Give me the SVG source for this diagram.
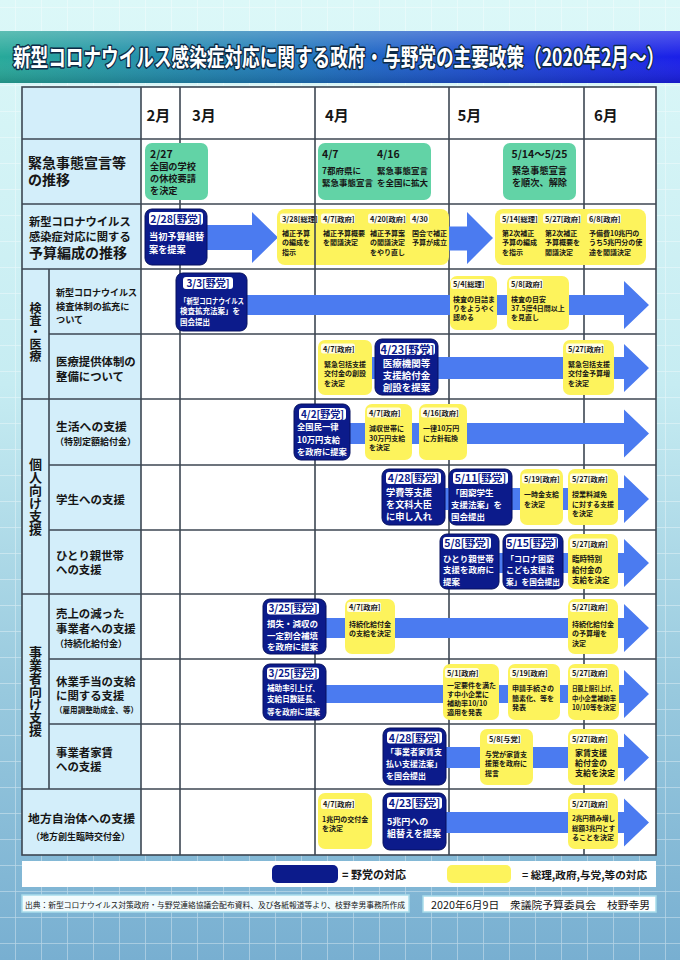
<svg xmlns="http://www.w3.org/2000/svg" width="680" height="960" viewBox="0 0 680 960">
<defs>
<linearGradient id="bg" x1="0" y1="0" x2="0" y2="1">
<stop offset="0" stop-color="#dcf8f8"/><stop offset="0.4" stop-color="#c6ecf2"/><stop offset="0.72" stop-color="#98c9de"/><stop offset="1" stop-color="#78afd1"/>
</linearGradient>
<pattern id="grid" width="26" height="26" patternUnits="userSpaceOnUse" patternTransform="translate(15,7)">
<path d="M0 0H26M0 0V26" fill="none" stroke="#ffffff" stroke-opacity="0.45" stroke-width="1.5"/>
</pattern>
<linearGradient id="tb" x1="0" y1="0" x2="1" y2="0">
<stop offset="0" stop-color="#27a99a"/><stop offset="0.45" stop-color="#1f74bd"/><stop offset="1" stop-color="#1a1fe8"/>
</linearGradient>
<linearGradient id="tbs" x1="0" y1="0" x2="0" y2="1">
<stop offset="0" stop-color="#fff" stop-opacity="0.25"/><stop offset="0.5" stop-color="#fff" stop-opacity="0"/><stop offset="1" stop-color="#000" stop-opacity="0.15"/>
</linearGradient>
<style>
text{font-family:"Noto Sans CJK JP","Noto Sans CJK SC",sans-serif;font-weight:bold;fill:#161616}
.nb{font-weight:normal}
.vt{writing-mode:vertical-rl;text-anchor:middle}
.gl{stroke:#3c4652;stroke-width:1.6;fill:none}
.lab{fill:#d3eefa}
.g{fill:#62d3a6}
.y{fill:#fdf35c}
.b{fill:#0c1b8b;stroke:#06115e;stroke-width:1}
.bp{fill:#ffffff}
.yp{fill:#fffde6}
.arr{fill:#4b7bf0}
.bw{fill:#ffffff}
.bh{fill:#0c1b8b}
.yh{font-size:7.3px}
.yt{font-size:7px}
.ttl{fill:#ffffff;stroke:#0d2a45;stroke-width:3;paint-order:stroke;stroke-linejoin:round}
</style>
</defs>

<rect width="680" height="960" fill="url(#bg)"/>
<rect width="680" height="960" fill="url(#grid)"/>

<g id="title">
<rect x="0" y="31" width="680" height="52" fill="url(#tb)"/>
<rect x="0" y="31" width="680" height="52" fill="url(#tbs)"/>
<text class="ttl" transform="translate(13,66) scale(0.74,1)" x="0" y="0" font-size="24" textLength="880" lengthAdjust="spacingAndGlyphs">新型コロナウイルス感染症対応に関する政府・与野党の主要政策（2020年2月～）</text>
</g>

<g id="table">
<rect x="22" y="87" width="634" height="768" fill="#ffffff"/>
<rect class="lab" x="22" y="87" width="119" height="768"/>
<g class="gl">
<rect x="22" y="87" width="634" height="768"/>
<line x1="141" y1="87" x2="141" y2="855"/>
<line x1="180" y1="87" x2="180" y2="855"/>
<line x1="315" y1="87" x2="315" y2="855"/>
<line x1="449" y1="87" x2="449" y2="855"/>
<line x1="584" y1="87" x2="584" y2="855"/>
<line x1="49" y1="269" x2="49" y2="789"/>
<line x1="22" y1="139" x2="656" y2="139"/>
<line x1="22" y1="204" x2="656" y2="204"/>
<line x1="22" y1="269" x2="656" y2="269"/>
<line x1="49" y1="334" x2="656" y2="334"/>
<line x1="22" y1="399" x2="656" y2="399"/>
<line x1="49" y1="465" x2="656" y2="465"/>
<line x1="49" y1="530" x2="656" y2="530"/>
<line x1="22" y1="594" x2="656" y2="594"/>
<line x1="49" y1="659" x2="656" y2="659"/>
<line x1="49" y1="724" x2="656" y2="724"/>
<line x1="22" y1="789" x2="656" y2="789"/>
</g>
<g font-size="15">
<text x="146.5" y="121">2月</text>
<text x="192" y="121">3月</text>
<text x="325" y="121">4月</text>
<text x="457.5" y="121">5月</text>
<text x="594" y="121">6月</text>
</g>
<g id="row-labels">
<text font-size="14"><tspan x="28" y="168">緊急事態宣言等</tspan><tspan x="28" y="185">の推移</tspan></text>
<text font-size="11.3"><tspan x="29" y="225.5">新型コロナウイルス</tspan><tspan x="29" y="240.5">感染症対応に関する</tspan><tspan x="29" y="258" font-size="14">予算編成の推移</tspan></text>
<text class="vt" x="35.5" y="332" font-size="12">検査・医療</text>
<text class="vt" x="35.5" y="497" font-size="13">個人向け支援</text>
<text class="vt" x="35.5" y="691" font-size="13">事業者向け支援</text>
<text font-size="9.2"><tspan x="56" y="295.5" font-size="9">新型コロナウイルス</tspan><tspan x="56" y="310">検査体制の拡充に</tspan><tspan x="56" y="323">ついて</tspan></text>
<text font-size="11.4"><tspan x="56" y="366">医療提供体制の</tspan><tspan x="56" y="380.5">整備について</tspan></text>
<text font-size="11.8"><tspan x="56" y="431">生活への支援</tspan><tspan x="55" y="444.5" font-size="9">（特別定額給付金）</tspan></text>
<text x="56" y="503.5" font-size="11.5">学生への支援</text>
<text font-size="11.4"><tspan x="56" y="560">ひとり親世帯</tspan><tspan x="56" y="573.6">への支援</tspan></text>
<text font-size="11.4"><tspan x="56" y="618">売上の減った</tspan><tspan x="56" y="632.5">事業者への支援</tspan><tspan x="55" y="647" font-size="9">（持続化給付金）</tspan></text>
<text font-size="11.4"><tspan x="56" y="686">休業手当の支給</tspan><tspan x="56" y="699.5">に関する支援</tspan></text>
<text x="55" y="712.5" font-size="8" textLength="83" lengthAdjust="spacingAndGlyphs">（雇用調整助成金、等）</text>
<text font-size="11.4"><tspan x="56" y="757">事業者家賃</tspan><tspan x="56" y="771">への支援</tspan></text>
<text x="28" y="823" font-size="11.9">地方自治体への支援</text>
<text x="31" y="839.5" font-size="9" textLength="99" lengthAdjust="spacingAndGlyphs">（地方創生臨時交付金）</text>
</g>
</g>

<g id="connectors">
<polygon class="arr" points="200,225 252,225 252,212 278,237.5 252,263 252,250 200,250"/>
<polygon class="arr" points="445,226.5 467,226.5 467,212 493,238 467,264 467,250.5 445,250.5"/>
<polygon class="arr" points="240,295 624,295 624,281 649,305 624,329 624,315 240,315"/>
<polygon class="arr" points="370,357 624,357 624,344 649,368 624,392 624,379 370,379"/>
<polygon class="arr" points="345,423 624,423 624,409.5 649,433.5 624,457.5 624,444 345,444"/>
<polygon class="arr" points="440,488 624,488 624,475 649,499 624,523 624,510 440,510"/>
<polygon class="arr" points="495,553 624,553 624,539 649,563 624,587 624,573 495,573"/>
<polygon class="arr" points="320,618 624,618 624,604 649,628 624,652 624,638 320,638"/>
<polygon class="arr" points="320,685 624,685 624,670 649,694 624,718 624,703 320,703"/>
<polygon class="arr" points="440,747 624,747 624,733.5 649,757.5 624,781.5 624,768 440,768"/>
<polygon class="arr" points="440,812 624,812 624,798.5 649,822.5 624,846.5 624,833 440,833"/>
</g>

<g id="n-0227">
<rect class="g" x="145" y="143" width="63" height="57" rx="7"/>
<text font-size="9.2"><tspan x="150" y="158" font-size="10.5">2/27</tspan><tspan x="150" y="169.5">全国の学校</tspan><tspan x="150" y="181.5">の休校要請</tspan><tspan x="150" y="193.5">を決定</tspan></text>
</g>
<g id="n-0407-0416">
<rect class="g" x="318" y="143" width="113" height="57" rx="7"/>
<text font-size="8.5"><tspan x="322" y="158" font-size="10.5">4/7</tspan><tspan x="322" y="174">7都府県に</tspan><tspan x="322" y="185.5">緊急事態宣言</tspan></text>
<text font-size="8.5"><tspan x="377" y="158" font-size="10.5">4/16</tspan><tspan x="377" y="174">緊急事態宣言</tspan><tspan x="377" y="185.5">を全国に拡大</tspan></text>
</g>
<g id="n-0514-0525">
<rect class="g" x="503" y="143" width="73" height="57" rx="7"/>
<text font-size="9.2" text-anchor="middle"><tspan x="539.5" y="158" font-size="10.5">5/14～5/25</tspan><tspan x="539.5" y="174">緊急事態宣言</tspan><tspan x="539.5" y="186">を順次、解除</tspan></text>
</g>

<g id="n-0228">
<rect class="b" x="145" y="209" width="62" height="56" rx="7"/>
<rect class="bp" x="149" y="212" width="54" height="13" rx="3"/>
<text class="bh" x="176" y="222.5" font-size="10.5" text-anchor="middle">2/28[野党]</text>
<text class="bw" font-size="9.2"><tspan x="149" y="240">当初予算組替</tspan><tspan x="149" y="253">案を提案</tspan></text>
</g>
<g id="n-budget1">
<rect class="y" x="277" y="209" width="172" height="56" rx="8"/>
<rect class="yp" x="280" y="213.5" width="38" height="10" rx="2.5"/>
<rect class="yp" x="321" y="213.5" width="34" height="10" rx="2.5"/>
<rect class="yp" x="368" y="213.5" width="38" height="10" rx="2.5"/>
<rect class="yp" x="410" y="213.5" width="19" height="10" rx="2.5"/>
<line class="gl" x1="315" y1="209" x2="315" y2="265"/>
<text class="yh" x="282" y="221.5">3/28[総理]</text>
<text class="yh" x="323" y="221.5">4/7[政府]</text>
<text class="yh" x="370" y="221.5">4/20[政府]</text>
<text class="yh" x="412" y="221.5">4/30</text>
<text class="yt"><tspan x="282" y="236">補正予算</tspan><tspan x="282" y="245">の編成を</tspan><tspan x="282" y="255">指示</tspan></text>
<text class="yt"><tspan x="323" y="236">補正予算概要</tspan><tspan x="323" y="245">を閣議決定</tspan></text>
<text class="yt"><tspan x="370" y="236">補正予算案</tspan><tspan x="370" y="245">の閣議決定</tspan><tspan x="370" y="255">をやり直し</tspan></text>
<text class="yt"><tspan x="412" y="236">国会で補正</tspan><tspan x="412" y="245">予算が成立</tspan></text>
</g>
<g id="n-budget2">
<rect class="y" x="495" y="209" width="151" height="56" rx="8"/>
<rect class="yp" x="500" y="213.5" width="38" height="10" rx="2.5"/>
<rect class="yp" x="543" y="213.5" width="38" height="10" rx="2.5"/>
<rect class="yp" x="587" y="213.5" width="34" height="10" rx="2.5"/>
<text class="yh" x="502" y="221.5">5/14[総理]</text>
<text class="yh" x="545" y="221.5">5/27[政府]</text>
<text class="yh" x="589" y="221.5">6/8[政府]</text>
<text class="yt"><tspan x="502" y="236">第2次補正</tspan><tspan x="502" y="245">予算の編成</tspan><tspan x="502" y="255">を指示</tspan></text>
<text class="yt"><tspan x="545" y="236">第2次補正</tspan><tspan x="545" y="245">予算概要を</tspan><tspan x="545" y="255">閣議決定</tspan></text>
<text class="yt"><tspan x="589" y="236">予備費10兆円の</tspan><tspan x="589" y="245">うち5兆円分の使</tspan><tspan x="589" y="255">途を閣議決定</tspan></text>
</g>

<g id="n-0303">
<rect class="b" x="176" y="273" width="71" height="58" rx="7"/>
<rect class="bp" x="183" y="277" width="50" height="12" rx="3"/>
<text class="bh" x="208" y="286.5" font-size="10" text-anchor="middle">3/3[野党]</text>
<text class="bw" x="180" y="303.5" font-size="7.5" textLength="64" lengthAdjust="spacingAndGlyphs">「新型コロナウイルス</text>
<text class="bw" font-size="7.5"><tspan x="180" y="314">検査拡充法案」を</tspan><tspan x="180" y="325">国会提出</tspan></text>
</g>
<g id="n-0504">
<rect class="y" x="450" y="276" width="47" height="54" rx="7"/>
<rect class="yp" x="451" y="279" width="34" height="10" rx="2.5"/>
<text class="yh" x="453" y="287">5/4[総理]</text>
<text class="yt"><tspan x="453" y="302">検査の目詰ま</tspan><tspan x="453" y="311">りをようやく</tspan><tspan x="453" y="320">認める</tspan></text>
</g>
<g id="n-0508a">
<rect class="y" x="507" y="276" width="62" height="54" rx="7"/>
<rect class="yp" x="509" y="279" width="34" height="10" rx="2.5"/>
<text class="yh" x="511" y="287">5/8[政府]</text>
<text class="yt"><tspan x="511" y="302">検査の目安</tspan><tspan x="511" y="311">37.5度4日間以上</tspan><tspan x="511" y="320">を見直し</tspan></text>
</g>

<g id="n-0407a">
<rect class="y" x="318" y="340" width="54" height="55" rx="7"/>
<rect class="yp" x="321" y="343.5" width="34" height="10" rx="2.5"/>
<text class="yh" x="323" y="351.5">4/7[政府]</text>
<text class="yt"><tspan x="324" y="366.5">緊急包括支援</tspan><tspan x="324" y="376">交付金の創設</tspan><tspan x="324" y="385.5">を決定</tspan></text>
</g>
<g id="n-0423a">
<rect class="b" x="375" y="339" width="63" height="56" rx="7"/>
<rect class="bp" x="380" y="343" width="55" height="12" rx="3"/>
<text class="bh" x="407.5" y="353.5" font-size="11" text-anchor="middle">4/23[野党]</text>
<text class="bw" font-size="9.5" text-anchor="middle"><tspan x="406.5" y="366.5">医療機関等</tspan><tspan x="406.5" y="378.5">支援給付金</tspan><tspan x="406.5" y="390.5">創設を提案</tspan></text>
</g>
<g id="n-0527a">
<rect class="y" x="563" y="340" width="51" height="55" rx="7"/>
<rect class="yp" x="566" y="343.5" width="38" height="10" rx="2.5"/>
<text class="yh" x="568" y="351.5">5/27[政府]</text>
<text class="yt"><tspan x="568" y="366.5">緊急包括支援</tspan><tspan x="568" y="376">交付金予算増</tspan><tspan x="568" y="385.5">を決定</tspan></text>
</g>

<g id="n-0402">
<rect class="b" x="294" y="404" width="56" height="56" rx="7"/>
<rect class="bp" x="299" y="408" width="47" height="12" rx="3"/>
<text class="bh" x="322.5" y="417.5" font-size="10" text-anchor="middle">4/2[野党]</text>
<text class="bw" font-size="8.3"><tspan x="297" y="430">全国民一律</tspan><tspan x="297" y="443">10万円支給</tspan><tspan x="297" y="455">を政府に提案</tspan></text>
</g>
<g id="n-0407b">
<rect class="y" x="365" y="404" width="47" height="56" rx="7"/>
<rect class="yp" x="367" y="407.5" width="34" height="10" rx="2.5"/>
<text class="yh" x="369" y="415.5">4/7[政府]</text>
<text class="yt"><tspan x="369" y="431">減収世帯に</tspan><tspan x="369" y="440.5">30万円支給</tspan><tspan x="369" y="450">を決定</tspan></text>
</g>
<g id="n-0416">
<rect class="y" x="419" y="404" width="48" height="56" rx="7"/>
<rect class="yp" x="421" y="407.5" width="38" height="10" rx="2.5"/>
<text class="yh" x="423" y="415.5">4/16[政府]</text>
<text class="yt"><tspan x="423" y="431">一律10万円</tspan><tspan x="423" y="440.5">に方針転換</tspan></text>
</g>

<g id="n-0428a">
<rect class="b" x="382" y="469" width="63" height="56" rx="7"/>
<rect class="bp" x="386" y="472" width="55" height="12" rx="3"/>
<text class="bh" x="413.5" y="482" font-size="10.5" text-anchor="middle">4/28[野党]</text>
<text class="bw" font-size="9.2"><tspan x="386" y="496">学費等支援</tspan><tspan x="386" y="508">を文科大臣</tspan><tspan x="386" y="519.5">に申し入れ</tspan></text>
</g>
<g id="n-0511">
<rect class="b" x="449" y="469" width="63" height="56" rx="7"/>
<rect class="bp" x="453" y="472" width="55" height="12" rx="3"/>
<text class="bh" x="480.5" y="482" font-size="10.5" text-anchor="middle">5/11[野党]</text>
<text class="bw" font-size="8.5"><tspan x="451" y="496">「困窮学生</tspan><tspan x="451" y="508">支援法案」を</tspan><tspan x="451" y="519.5">国会提出</tspan></text>
</g>
<g id="n-0519a">
<rect class="y" x="520" y="469" width="43" height="56" rx="7"/>
<rect class="yp" x="522" y="473.5" width="38" height="10" rx="2.5"/>
<text class="yh" x="524" y="481.5">5/19[政府]</text>
<text class="yt"><tspan x="524" y="497">一時金支給</tspan><tspan x="524" y="506.5">を決定</tspan></text>
</g>
<g id="n-0527b">
<rect class="y" x="568" y="469" width="50" height="56" rx="7"/>
<rect class="yp" x="570" y="473.5" width="38" height="10" rx="2.5"/>
<text class="yh" x="572" y="481.5">5/27[政府]</text>
<text class="yt"><tspan x="572" y="497">授業料減免</tspan><tspan x="572" y="506.5">に対する支援</tspan><tspan x="572" y="516">を決定</tspan></text>
</g>

<g id="n-0508b">
<rect class="b" x="440" y="534" width="59" height="55" rx="7"/>
<rect class="bp" x="443" y="537" width="48" height="12" rx="3"/>
<text class="bh" x="467" y="547" font-size="10.5" text-anchor="middle">5/8[野党]</text>
<text class="bw" font-size="8.5"><tspan x="443" y="561.5">ひとり親世帯</tspan><tspan x="443" y="573">支援を政府に</tspan><tspan x="443" y="584.5">提案</tspan></text>
</g>
<g id="n-0515">
<rect class="b" x="503" y="534" width="60" height="55" rx="7"/>
<rect class="bp" x="506" y="537" width="52" height="12" rx="3"/>
<text class="bh" x="532" y="547" font-size="10.5" text-anchor="middle">5/15[野党]</text>
<text class="bw" font-size="8"><tspan x="506" y="561.5">「コロナ困窮</tspan><tspan x="506" y="573">こども支援法</tspan></text>
<text class="bw" x="506" y="584.5" font-size="8" textLength="54" lengthAdjust="spacingAndGlyphs">案」を国会提出</text>
</g>
<g id="n-0527c">
<rect class="y" x="568" y="534" width="50" height="55" rx="7"/>
<rect class="yp" x="570" y="538.5" width="38" height="10" rx="2.5"/>
<text class="yh" x="572" y="546.5">5/27[政府]</text>
<text font-size="7.5"><tspan x="572" y="562">臨時特別</tspan><tspan x="572" y="572.5">給付金の</tspan><tspan x="572" y="583">支給を決定</tspan></text>
</g>

<g id="n-0325a">
<rect class="b" x="263" y="599" width="63" height="55" rx="7"/>
<rect class="bp" x="267" y="602.5" width="52" height="12" rx="3"/>
<text class="bh" x="293" y="612" font-size="10" text-anchor="middle">3/25[野党]</text>
<text class="bw" font-size="8.5"><tspan x="267" y="627">損失・減収の</tspan><tspan x="267" y="638.5">一定割合補填</tspan><tspan x="267" y="650">を政府に提案</tspan></text>
</g>
<g id="n-0407c">
<rect class="y" x="345" y="599" width="50" height="55" rx="7"/>
<rect class="yp" x="347" y="602" width="34" height="10" rx="2.5"/>
<text class="yh" x="349" y="610">4/7[政府]</text>
<text class="yt"><tspan x="349" y="626.5">持続化給付金</tspan><tspan x="349" y="636">の支給を決定</tspan></text>
</g>
<g id="n-0527d">
<rect class="y" x="568" y="599" width="50" height="55" rx="7"/>
<rect class="yp" x="570" y="602" width="38" height="10" rx="2.5"/>
<text class="yh" x="572" y="610">5/27[政府]</text>
<text class="yt"><tspan x="572" y="626.5">持続化給付金</tspan><tspan x="572" y="636">の予算増を</tspan><tspan x="572" y="645.5">決定</tspan></text>
</g>

<g id="n-0325b">
<rect class="b" x="263" y="664" width="63" height="56" rx="7"/>
<rect class="bp" x="267" y="667.5" width="52" height="12" rx="3"/>
<text class="bh" x="293" y="677" font-size="10" text-anchor="middle">3/25[野党]</text>
<text class="bw" font-size="7.6"><tspan x="267" y="690.5">補助率引上げ、</tspan><tspan x="267" y="702">支給日数延長、</tspan><tspan x="267" y="715">等を政府に提案</tspan></text>
</g>
<g id="n-0501">
<rect class="y" x="443" y="664" width="56" height="56" rx="7"/>
<rect class="yp" x="445" y="668" width="34" height="10" rx="2.5"/>
<text class="yh" x="447" y="676">5/1[政府]</text>
<text class="yt"><tspan x="447" y="687.5">一定要件を満た</tspan><tspan x="447" y="696.5">す中小企業に</tspan><tspan x="447" y="705.5">補助率10/10</tspan><tspan x="447" y="714.5">適用を発表</tspan></text>
</g>
<g id="n-0519b">
<rect class="y" x="508" y="664" width="52" height="56" rx="7"/>
<rect class="yp" x="510" y="668" width="38" height="10" rx="2.5"/>
<text class="yh" x="512" y="676">5/19[政府]</text>
<text class="yt"><tspan x="512" y="691">申請手続きの</tspan><tspan x="512" y="700.5">簡素化、等を</tspan><tspan x="512" y="710">発表</tspan></text>
</g>
<g id="n-0527e">
<rect class="y" x="568" y="664" width="51" height="56" rx="7"/>
<rect class="yp" x="570" y="668" width="38" height="10" rx="2.5"/>
<text class="yh" x="572" y="676">5/27[政府]</text>
<text class="yt" x="572" y="691" textLength="44" lengthAdjust="spacingAndGlyphs">日額上限引上げ、</text>
<text class="yt" x="572" y="700.5" textLength="44" lengthAdjust="spacingAndGlyphs">中小企業補助率</text>
<text class="yt" x="572" y="710" textLength="44" lengthAdjust="spacingAndGlyphs">10/10等を決定</text>
</g>

<g id="n-0428b">
<rect class="b" x="383" y="728" width="63" height="57" rx="7"/>
<rect class="bp" x="387" y="731.5" width="55" height="12" rx="3"/>
<text class="bh" x="414.5" y="741.5" font-size="10.5" text-anchor="middle">4/28[野党]</text>
<text class="bw" font-size="8"><tspan x="386" y="755">「事業者家賃支</tspan><tspan x="386" y="766.5">払い支援法案」</tspan><tspan x="386" y="779">を国会提出</tspan></text>
</g>
<g id="n-0508c">
<rect class="y" x="480" y="729" width="53" height="56" rx="7"/>
<rect class="yp" x="487" y="734" width="34" height="10" rx="2.5"/>
<text class="yh" x="489" y="742">5/8[与党]</text>
<text class="yt"><tspan x="485" y="756.5">与党が家賃支</tspan><tspan x="485" y="766">援策を政府に</tspan><tspan x="485" y="775.5">提言</tspan></text>
</g>
<g id="n-0527f">
<rect class="y" x="568" y="729" width="50" height="56" rx="7"/>
<rect class="yp" x="570" y="734" width="38" height="10" rx="2.5"/>
<text class="yh" x="572" y="742">5/27[政府]</text>
<text font-size="8"><tspan x="575" y="756">家賃支援</tspan><tspan x="575" y="766">給付金の</tspan><tspan x="575" y="776">支給を決定</tspan></text>
</g>

<g id="n-0407d">
<rect class="y" x="318" y="793" width="54" height="56" rx="7"/>
<rect class="yp" x="321" y="799" width="34" height="10" rx="2.5"/>
<text class="yh" x="323" y="807">4/7[政府]</text>
<text class="yt"><tspan x="322" y="822">1兆円の交付金</tspan><tspan x="322" y="831">を決定</tspan></text>
</g>
<g id="n-0423b">
<rect class="b" x="383" y="793" width="63" height="57" rx="7"/>
<rect class="bp" x="387" y="797" width="55" height="12" rx="3"/>
<text class="bh" x="414.5" y="807" font-size="10.5" text-anchor="middle">4/23[野党]</text>
<text class="bw" font-size="9"><tspan x="387" y="824.5">5兆円への</tspan><tspan x="387" y="837">組替えを提案</tspan></text>
</g>
<g id="n-0527g">
<rect class="y" x="568" y="793" width="50" height="56" rx="7"/>
<rect class="yp" x="570" y="799" width="38" height="10" rx="2.5"/>
<text class="yh" x="572" y="807">5/27[政府]</text>
<text class="yt" x="572" y="821" textLength="43" lengthAdjust="spacingAndGlyphs">2兆円積み増し</text>
<text class="yt" x="572" y="830.5" textLength="43" lengthAdjust="spacingAndGlyphs">総額3兆円とす</text>
<text class="yt" x="572" y="839.5" textLength="42" lengthAdjust="spacingAndGlyphs">ることを決定</text>
</g>

<g id="legend">
<rect x="22" y="861" width="634" height="26" fill="#ffffff"/>
<rect x="272" y="865" width="66" height="18" rx="5" fill="#0c1b8b"/>
<text x="342" y="879" font-size="11">= 野党の対応</text>
<rect x="447" y="865" width="64" height="18" rx="5" fill="#fdf35c"/>
<text x="522" y="879" font-size="10.5" textLength="125" lengthAdjust="spacingAndGlyphs">= 総理,政府,与党,等の対応</text>
</g>

<g id="footer">
<rect x="22" y="895" width="387" height="17" fill="#f2fbfd" stroke="#a8dcea" stroke-width="1.5"/>
<text class="nb" x="25" y="907.5" font-size="7.8" textLength="380" lengthAdjust="spacingAndGlyphs">出典：新型コロナウイルス対策政府・与野党連絡協議会配布資料、及び各紙報道等より、枝野幸男事務所作成</text>
<rect x="423" y="896" width="233" height="16" fill="#ffffff" stroke="#a8dcea" stroke-width="1.5"/>
<text class="nb" x="431" y="908.5" font-size="10.5" textLength="219" lengthAdjust="spacingAndGlyphs">2020年6月9日　衆議院予算委員会　枝野幸男</text>
</g>
</svg>
